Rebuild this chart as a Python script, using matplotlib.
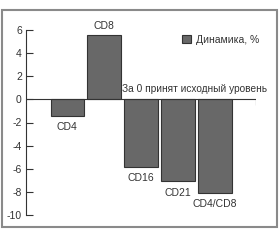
import matplotlib
matplotlib.use("Agg")
import matplotlib.pyplot as plt
from matplotlib.patches import Rectangle
from matplotlib.transforms import blended_transform_factory

plt.rcParams['font.family'] = ['Liberation Sans', 'DejaVu Sans']

categories = ["CD4", "CD8", "CD16", "CD21", "CD4/CD8"]
values = [-1.45, 5.6, -5.85, -7.1, -8.1]
yticks = [6, 4, 2, 0, -2, -4, -6, -8, -10]
legend_label = "Динамика, %"
note = "За 0 принят исходный уровень"

fig = plt.figure(figsize=(2.8, 2.4), dpi=100)
ax = fig.add_axes([26/280, 1-215/240, (256-26)/280, (215-30)/240])

x = list(range(len(categories)))
bars = ax.bar(x, values, width=0.91, color="#686868", edgecolor="#333333",
              linewidth=0.8, label=legend_label, zorder=2)

ax.set_xlim(-1.12, 5.11)
ax.set_ylim(-10, 6)
ax.set_yticks(yticks)
ax.set_yticklabels([str(t) for t in yticks])
ax.tick_params(axis='y', direction='in', length=5, width=0.8, color="#333333",
               labelsize=7.5, labelcolor="#333333", pad=3)
ax.set_xticks([])
for s in ['top', 'right', 'bottom']:
    ax.spines[s].set_visible(False)
ax.spines['left'].set_color("#333333")
ax.spines['left'].set_linewidth(0.8)

ax.axhline(0, color="#333333", linewidth=0.8, zorder=3)
ax.vlines(ax.get_xlim()[1], -0.45, 0, color="#333333", linewidth=0.8)

for xi, (cat, v) in enumerate(zip(categories, values)):
    if v >= 0:
        ax.annotate(cat, (xi, v), xytext=(0, 6), textcoords='offset points',
                    ha='center', va='center', fontsize=7.5, color="#333333")
    else:
        ax.annotate(cat, (xi, v), xytext=(0, -8), textcoords='offset points',
                    ha='center', va='center', fontsize=7.5, color="#333333")

fig.text(267/280, 1-89.5/240, note, ha='right', va='center', fontsize=7.3, color="#333333")

leg = fig.legend(handles=[bars], labels=[legend_label], loc='center right',
                 bbox_to_anchor=(259/280, 1-40/240), frameon=False, fontsize=7.5,
                 handlelength=0.8, handleheight=0.8, handletextpad=0.5,
                 borderpad=0, borderaxespad=0)
for t in leg.get_texts():
    t.set_color("#333333")

fig.patches.append(Rectangle((2/280, 1-227/240), 275/280, 217/240, transform=fig.transFigure,
                             fill=False, edgecolor="#8a8a8a", linewidth=1.5))

fig.savefig("out.png", dpi=100)
